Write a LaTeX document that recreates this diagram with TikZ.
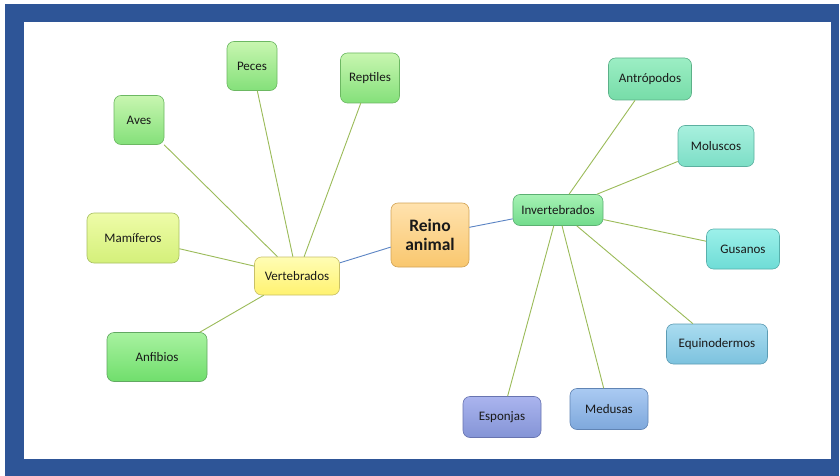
\documentclass[tikz,border=0pt]{standalone}
\usepackage{fontspec}
\setmainfont{Carlito}
\usetikzlibrary{positioning,calc}
\definecolor{framecol}{HTML}{2E5597}
\definecolor{linkcol}{HTML}{9BBB59}
\definecolor{hubcol}{HTML}{5B84C4}
% fills: top, bottom, border
\definecolor{reinoT}{HTML}{FFE2AE}\definecolor{reinoB}{HTML}{F9C76E}\definecolor{reinoD}{HTML}{D2A456}
\definecolor{vertT}{HTML}{FFFDB4}\definecolor{vertB}{HTML}{FFF270}\definecolor{vertD}{HTML}{C8C068}
\definecolor{invT}{HTML}{A6F2B4}\definecolor{invB}{HTML}{72DC8C}\definecolor{invD}{HTML}{5CB072}
\definecolor{grnT}{HTML}{C8F6B0}\definecolor{grnB}{HTML}{84E07A}\definecolor{grnD}{HTML}{6CB862}
\definecolor{mamT}{HTML}{EEFCA8}\definecolor{mamB}{HTML}{D4F07A}\definecolor{mamD}{HTML}{A8C062}
\definecolor{anfT}{HTML}{A8F2A0}\definecolor{anfB}{HTML}{70DE6C}\definecolor{anfD}{HTML}{62A862}
\definecolor{antT}{HTML}{9CEEC4}\definecolor{antB}{HTML}{76DCA8}\definecolor{antD}{HTML}{5CB088}
\definecolor{molT}{HTML}{A8F0DE}\definecolor{molB}{HTML}{7CDEC6}\definecolor{molD}{HTML}{5CB0A0}
\definecolor{gusT}{HTML}{9CF0EA}\definecolor{gusB}{HTML}{6EDCD6}\definecolor{gusD}{HTML}{58B0AC}
\definecolor{equT}{HTML}{AADCF0}\definecolor{equB}{HTML}{7CC2DE}\definecolor{equD}{HTML}{5C9CB4}
\definecolor{medT}{HTML}{AACAF2}\definecolor{medB}{HTML}{7EA8DC}\definecolor{medD}{HTML}{6084B4}
\definecolor{espT}{HTML}{AAB4EE}\definecolor{espB}{HTML}{8494D6}\definecolor{espD}{HTML}{6874B0}
\tikzset{
    concept/.style={rectangle, rounded corners=7pt, line width=0.6pt, text=black!90, align=center, font=\fontsize{13}{15}\selectfont},
    box/.style 2 args={concept, top color=#1T, bottom color=#1B, draw=#1D, minimum width=#2},
    link/.style={draw=linkcol, line width=0.9pt},
    hublink/.style={draw=hubcol, line width=0.9pt}
}
\begin{document}
\begin{tikzpicture}[x=1pt, y=-1pt]
    % frame
    \useasboundingbox (0,0) rectangle (840,476);
    \fill [framecol] (5,4) rectangle (839,476);
    \fill [white] (24,22) rectangle (831,459);

    % centre
    \node [box={reino}{78pt}, minimum height=64pt, font=\fontsize{17.5}{18.5}\selectfont\bfseries] (reino) at (430,235) {Reino\\animal};
    \node [box={vert}{85pt}, minimum height=38pt] (vert) at (297,276) {Vertebrados};
    \node [box={inv}{90pt}, minimum height=31pt] (invert) at (558,210) {Invertebrados};

    % vertebrados
    \node [box={grn}{50pt}, minimum height=49pt] (peces) at (252,66) {Peces};
    \node [box={grn}{59pt}, minimum height=50pt] (reptiles) at (370,78) {Reptiles};
    \node [box={grn}{50pt}, minimum height=49pt] (aves) at (139,120) {Aves};
    \node [box={mam}{92pt}, minimum height=50pt] (mamif) at (133,238) {Mamíferos};
    \node [box={anf}{100pt}, minimum height=49pt] (anfib) at (157,357) {Anfibios};

    % invertebrados
    \node [box={ant}{83pt}, minimum height=42pt] (antrop) at (650,79) {Antrópodos};
    \node [box={mol}{76pt}, minimum height=41pt] (molus) at (716,146) {Moluscos};
    \node [box={gus}{73pt}, minimum height=40pt] (gusan) at (743,249) {Gusanos};
    \node [box={equ}{101pt}, minimum height=40pt] (equin) at (717,344) {Equinodermos};
    \node [box={med}{78pt}, minimum height=41pt] (medus) at (609,409) {Medusas};
    \node [box={esp}{78pt}, minimum height=41pt] (espon) at (502,417) {Esponjas};

    \path [hublink] (reino) -- (vert);
    \path [hublink] (reino) -- (invert);

    \path [link] (vert) -- (peces);
    \path [link] (vert) -- (reptiles);
    \path [link] (vert) -- (aves);
    \path [link] (vert) -- (mamif);
    \path [link] (vert) -- (anfib);

    \path [link] (invert) -- (antrop);
    \path [link] (invert) -- (molus);
    \path [link] (invert) -- (gusan);
    \path [link] (invert) -- (equin);
    \path [link] (invert) -- (medus);
    \path [link] (invert) -- (espon);
\end{tikzpicture}
\end{document}
